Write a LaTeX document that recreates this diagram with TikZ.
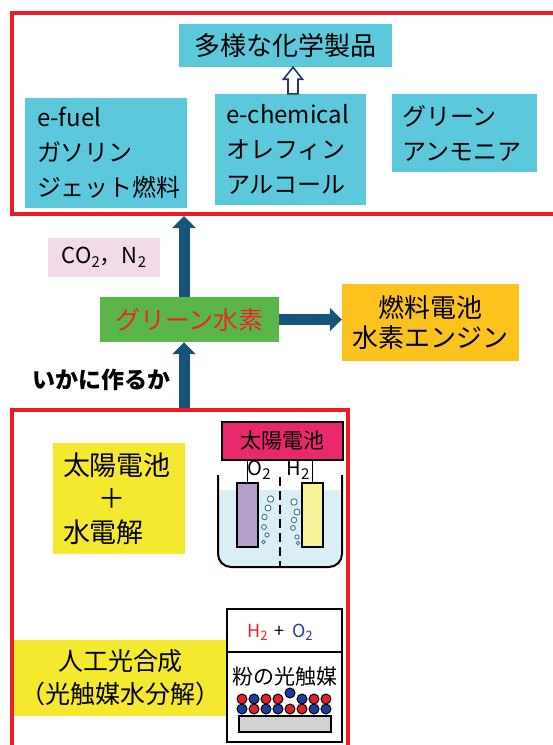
\documentclass[tikz,border=0pt]{standalone}
\usepackage{fontspec}
\setmainfont{Noto Sans CJK JP}
\usetikzlibrary{arrows.meta,calc}

\definecolor{framered}{RGB}{237,28,36}
\definecolor{boxcyan}{RGB}{91,200,220}
\definecolor{boxgreen}{RGB}{90,182,72}
\definecolor{textred}{RGB}{232,38,45}
\definecolor{boxorange}{RGB}{252,195,30}
\definecolor{gaspink}{RGB}{242,218,232}
\definecolor{boxyellow}{RGB}{245,233,48}
\definecolor{arrowblue}{RGB}{22,84,124}
\definecolor{hollowblue}{RGB}{31,56,100}
\definecolor{cellpink}{RGB}{234,40,110}
\definecolor{elpurple}{RGB}{180,158,204}
\definecolor{elyellow}{RGB}{248,243,152}
\definecolor{water}{RGB}{218,239,245}
\definecolor{bubble}{RGB}{70,110,150}
\definecolor{hred}{RGB}{232,32,42}
\definecolor{oblue}{RGB}{40,60,160}
\definecolor{pred}{RGB}{230,30,40}
\definecolor{pblue}{RGB}{30,60,160}
\definecolor{subgray}{RGB}{210,210,210}

% lowered small text for chemical subscripts
\newcommand{\lowsub}[2]{\raisebox{-0.35ex}{\fontsize{#1}{#1}\selectfont #2}}

\begin{document}
\begin{tikzpicture}[x=1pt,y=-1pt,
  frame/.style={rectangle, draw=framered, line width=4pt},
  cbox/.style={rectangle, fill=boxcyan, inner ysep=0pt, align=left,
               font=\fontsize{24}{35}\selectfont},
  ybox/.style={rectangle, fill=boxyellow, inner ysep=0pt},
  bigarrow/.style={draw=arrowblue, line width=11pt,
                   -{Triangle[width=23pt,length=12pt]}},
  hollow/.style={draw=hollowblue, line width=1.6pt, fill=white, line join=miter},
  bubblestyle/.style={draw=bubble, line width=0.9pt, fill=white},
  particle/.style={draw=black, line width=1pt},
]
\useasboundingbox (0,0) rectangle (553,745);

% ---- products (upper frame) ----
\node[frame, minimum width=544pt, minimum height=201pt] (top) at (284,113.5) {};
\node[cbox, align=center, minimum width=213pt, minimum height=43pt,
      font=\fontsize{26}{30}\selectfont] (prod) at (285.5,45.5) {多様な化学製品};
\node[cbox, minimum width=162pt, minimum height=110pt, inner xsep=12pt, text width=138pt]
      (efuel) at (106,153) {\mbox{e-fuel}\\ガソリン\\ジェット燃料};
\node[cbox, minimum width=151pt, minimum height=111pt, inner xsep=11pt, text width=129pt]
      (echem) at (290.5,149.5) {\mbox{e-chemical}\\オレフィン\\アルコール};
\node[cbox, minimum width=145pt, minimum height=78pt, inner xsep=10pt, text width=125pt]
      (ammonia) at (464.5,133) {グリーン\\アンモニア};

% hollow arrow towards the chemical products
\coordinate (ha) at ([xshift=2.5pt]echem.north);
\coordinate (hb) at (ha |- prod.south);
\draw[hollow] ($(ha)+(-5,0)$) -- ($(hb)+(-5,12)$) -- ($(hb)+(-9.5,12)$) -- (hb)
  -- ($(hb)+(9.5,12)$) -- ($(hb)+(5,12)$) -- ($(ha)+(5,0)$) -- cycle;

% ---- hydrogen and its uses ----
\node[rectangle, fill=gaspink, minimum width=112pt, minimum height=39pt,
      font=\fontsize{22}{26}\selectfont] (gas) at (104,257.5)
      {CO\lowsub{15}{2}，N\lowsub{15}{2}};
\node[rectangle, fill=boxgreen, minimum width=179pt, minimum height=45pt, text=textred,
      font=\fontsize{25}{30}\selectfont] (h2) at (189.5,319.5) {グリーン水素};
\node[rectangle, fill=boxorange, minimum width=177pt, minimum height=77pt, align=center,
      font=\fontsize{26}{30}\selectfont] (use) at (430.5,322.5) {燃料電池\\水素エンジン};
\node[font=\bfseries\fontsize{23}{23}\selectfont] (how) at (101,380) {いかに作るか};

% ---- production routes (lower frame) ----
\node[frame, minimum width=336pt, minimum height=360pt] (low) at (180,590) {};

\draw[bigarrow] ([xshift=-5.5pt]h2.north) -- ([xshift=-5.5pt]h2.north |- top.south);
\draw[bigarrow] ([xshift=-5.5pt]h2.south |- low.north) -- ([xshift=-5.5pt]h2.south);
\draw[bigarrow] (h2.east) -- (h2.east -| use.west);

\node[ybox, minimum width=132pt, minimum height=111pt, inner xsep=10pt, text width=112pt,
      align=left, font=\fontsize{27}{33.5}\selectfont] (pv) at (119,498.5)
      {太陽電池\\\hspace*{1.3em}＋\\水電解};
\node[ybox, minimum width=213pt, minimum height=76pt, align=center,
      font=\fontsize{25}{33}\selectfont] (ap) at (120.5,678) {人工光合成\\（光触媒水分解）};

% electrolysis cell
\fill[water] (218,490) -- (218,554) arc[start angle=180, end angle=270, radius=13pt]
  -- (329,567) arc[start angle=270, end angle=360, radius=13pt] -- (342,490) -- cycle;
\draw[line width=2.8pt, dash pattern=on 9pt off 5pt] (280,477) -- (280,567);
\node[draw=black, line width=1.2pt, fill=elpurple, minimum width=21pt, minimum height=64pt]
      (anode) at (247.5,515) {};
\node[draw=black, line width=1.2pt, fill=elyellow, minimum width=21pt, minimum height=64pt]
      (cathode) at (312.5,515) {};
\foreach \bx/\by/\br in {270.5/499/3.2, 268/508/3, 264.5/517/2.7, 264/527/2.4,
                         267/535/2.1, 263.5/542/1.8,
                         294/502/3.2, 297/512/3, 294/520/2.7, 293/528/2.4,
                         297/537/2.1, 298/543/1.8}
  \draw[bubblestyle] (\bx,\by) circle[radius=\br pt];
\draw[line width=2pt] (218,475) -- (218,554) arc[start angle=180, end angle=270, radius=13pt]
  -- (329,567) arc[start angle=270, end angle=360, radius=13pt] -- (342,475);
\node[draw=black, line width=1.8pt, fill=cellpink, minimum width=121pt, minimum height=38pt,
      font=\fontsize{21}{21}\selectfont] (cell) at (282.5,441) {太陽電池};
\draw[line width=1.5pt] (anode.north) -- (anode.north |- cell.south);
\draw[line width=1.5pt] (cathode.north) -- (cathode.north |- cell.south);
\node[font=\fontsize{20}{20}\selectfont] (o2) at (259,470) {O\lowsub{15}{2}};
\node[font=\fontsize{20}{20}\selectfont] (h2gas) at (298,470) {H\lowsub{15}{2}};

% photocatalyst panel
\node[draw=black, line width=2.2pt, minimum width=115pt, minimum height=133pt]
      (pc) at (284.5,675.5) {};
\path (pc.north west) ++(0,44) coordinate (dl);
\draw[line width=2.2pt] (dl) -- (dl -| pc.east);
\node[font=\fontsize{18}{18}\selectfont] (gasout) at (280,632)
      {\textcolor{hred}{H\lowsub{13}{2}}\hspace{0.4em}+\hspace{0.4em}\textcolor{oblue}{O\lowsub{13}{2}}};
\node[font=\fontsize{21}{21}\selectfont] (powder) at (284.5,677) {粉の光触媒};
\node[draw=black, line width=1.8pt, fill=subgray, minimum width=92pt, minimum height=16pt]
      (sub) at (285,724) {};
\foreach \px/\py/\pcol in {242/709/pblue, 254/709/pred, 266/709/pblue, 278/709/pblue,
                           290/709/pred, 302/709/pred, 314/709/pblue, 326/709/pblue,
                           242/699/pred, 254/699/pblue, 266/699/pred, 278/699/pred,
                           302/699/pblue, 314/699/pred, 326/699/pred, 290/693/pblue}
  \draw[particle, fill=\pcol] (\px,\py) circle[radius=5pt];
\end{tikzpicture}
\end{document}
